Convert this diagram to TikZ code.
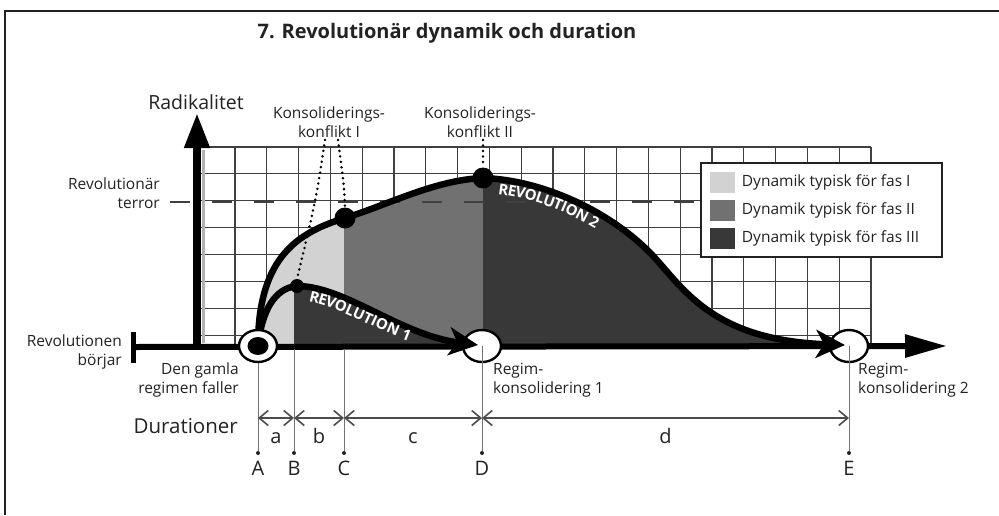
\documentclass[tikz,border=0pt]{standalone}
\usepackage{fontspec}
\setmainfont{Open Sans}
\usetikzlibrary{arrows.meta,positioning,calc,shapes.geometric,decorations.text}

\definecolor{fasI}{HTML}{D2D2D2}
\definecolor{fasII}{HTML}{717171}
\definecolor{fasIII}{HTML}{383838}
\definecolor{ink}{HTML}{222222}

\begin{document}
\begin{tikzpicture}[x=1pt,y=-1pt,>=Stealth,
  every node/.style={font=\fontsize{15.5}{19.5}\selectfont,text=ink,inner sep=0pt},
  gridline/.style={draw=black!75,line width=1.1pt},
  bigdot/.style={circle,fill=black,minimum size=21pt},
  smalldot/.style={circle,fill=black,minimum size=14pt},
  ring/.style={ellipse,draw=black,line width=2.4pt,fill=white,minimum width=38pt,minimum height=32pt},
  tick/.style={circle,fill=ink,minimum size=4pt},
  guide/.style={draw=black!55,line width=0.9pt},
  dots/.style={line width=2.8pt,line cap=round,dash pattern=on 0pt off 5.5pt},
  span/.style={{Straight Barb[length=9pt,width=15pt]}-{Straight Barb[length=9pt,width=15pt]},line width=1.6pt,draw=black!70},
  revcurve/.style={line width=6.5pt,-{Stealth[length=29pt,width=28pt,inset=8pt]}},
  swatch/.style={minimum width=25pt,minimum height=21pt}]
  \useasboundingbox (0,0) rectangle (999,515);
  % frame and title
  \draw[ink,line width=2.5pt] (5,515) -- (5,11) -- (999,11);
  \node[font=\bfseries\fontsize{20}{24}\selectfont] (title) at (447,33) {7. Revolutionär dynamik och duration};

  % grid
  \foreach \i in {0,...,20}
    \draw[gridline] ({235+31.8*\i},147) -- ({235+31.8*\i},346);
  \foreach \j in {0,...,7}
    \draw[gridline] (197,{147+26.9*\j}) -- (871,{147+26.9*\j});

  % the two revolutions
  \def\rtwo{(258,346) .. controls (258,255) and (300,232) .. (345,218)
    .. controls (390,204) and (435,180) .. (483,178)
    .. controls (545,180) and (615,214) .. (655,258)
    .. controls (685,291) and (715,340) .. (845,345)}
  \def\rone{(258,346) .. controls (262,310) and (275,288) .. (297,286)
    .. controls (345,286) and (400,335) .. (478,345)}
  \begin{scope}
    \clip (240,100) rectangle (344,350);
    \fill[fasI] \rtwo -- cycle;
  \end{scope}
  \begin{scope}
    \clip (344,100) rectangle (483,350);
    \fill[fasII] \rtwo -- cycle;
  \end{scope}
  \begin{scope}
    \clip (483,100) rectangle (870,350);
    \fill[fasIII] \rtwo -- cycle;
  \end{scope}
  \begin{scope}
    \clip (294,100) rectangle (483,350);
    \fill[fasIII] \rone -- cycle;
  \end{scope}

  % terror level
  \draw[black!75,line width=2pt,dash pattern=on 20pt off 22pt] (170,202) -- (700,202);

  % axes
  \node[fill=black,minimum width=5pt,minimum height=31pt] (start) at (133,347) {};
  \coordinate (orig) at (197,346);
  \coordinate (ytop) at (197,113);
  \coordinate (xend) at (947,346);
  \draw[line width=6pt,-{Triangle[length=42pt,width=22pt]}] (start.center) -- (xend);
  \draw[black!30,line width=3pt] (203,150) -- (203,343);
  \draw[line width=7.5pt,-{Triangle[length=35pt,width=24pt]}] (orig) -- (ytop);
  \node[font=\fontsize{19.5}{22}\selectfont] (ylabel) at (196,102) {Radikalitet};

  \node[ring] (D) at (482,346) {};
  \node[ring] (E) at (849,346) {};
  \draw[revcurve] \rone;
  \draw[revcurve] \rtwo;
  \node[ring] (A) at (258,346) {};
  \node[ellipse,fill=black,minimum width=21pt,minimum height=18pt] (Ain) at (A) {};

  \node[smalldot] (r1) at (297,286) {};
  \node[bigdot] (k1) at (345,218) {};
  \node[bigdot] (k2) at (483,178) {};

  \path[decorate,decoration={text along path,text color=white,raise=-14.5pt,
    text align={left indent=15pt},
    text={|\bfseries\fontsize{15}{15}\selectfont|REVOLUTION 1}}]
    (r1.center) .. controls (345,286) and (400,335) .. (478,345);
  \path[decorate,decoration={text along path,text color=white,raise=-15pt,
    text align={left indent=17pt},
    text={|\bfseries\fontsize{15}{15}\selectfont|REVOLUTION 2}}]
    (k2.center) .. controls (545,180) and (615,214) .. (655,258);

  % durations
  \foreach \n/\x in {A/258,B/294,C/344,D/482,E/849} {
    \node[tick] (t\n) at (\x,453) {};
    \node[anchor=base,font=\fontsize{20}{22}\selectfont] (l\n) at (\x,475) {\n};
    \coordinate (s\n) at (\x,418);
  }
  \draw[guide] (A.south) -- (tA);
  \draw[guide] (294,349) -- (tB);
  \draw[guide] (344,349) -- (tC);
  \draw[guide] (D.center) -- (tD);
  \draw[guide] (E.center) -- (tE);
  \foreach \p/\q/\t in {A/B/a,B/C/b,C/D/c,D/E/d}
    \draw[span] (s\p) -- node[anchor=base,yshift=-25pt,font=\fontsize{20}{22}\selectfont] (d\t) {\t} (s\q);
  \node[anchor=base east,font=\fontsize{20.5}{24}\selectfont] (durlabel) at (238,433) {Durationer};

  % labels
  \node[anchor=east,align=right] (terror) at (160,193) {Revolutionär\\terror};
  \node[anchor=east,align=right] (begin) at (122,352) {Revolutionen\\börjar};
  \node[anchor=east,align=right] (fall) at (239,380) {Den gamla\\regimen faller};
  \node[anchor=west,align=left] (cons1) at (493,380) {Regim-\\konsolidering 1};
  \node[anchor=west,align=left] (cons2) at (858,380) {Regim-\\konsolidering 2};
  \node[align=center] (conf1) at (329,122) {Konsoliderings-\\konflikt I};
  \node[align=center] (conf2) at (480,122) {Konsoliderings-\\konflikt II};
  \draw[dots] (325,140) .. controls (316,200) .. (r1.north);
  \draw[dots] (338,140) .. controls (344,185) .. (k1.north);
  \draw[dots] (483,140) -- (k2.north);

  % legend
  \node[draw=ink,line width=1.8pt,fill=white,minimum width=241pt,minimum height=94pt] (legend) at (821.5,210) {};
  \node[swatch,fill=fasI] (s1) at (722,182) {};
  \node[swatch,fill=fasII] (s2) at (722,210) {};
  \node[swatch,fill=fasIII] (s3) at (722,238) {};
  \node[right=7pt of s1] (t1) {Dynamik typisk för fas I};
  \node[right=7pt of s2] (t2) {Dynamik typisk för fas II};
  \node[right=7pt of s3] (t3) {Dynamik typisk för fas III};
\end{tikzpicture}
\end{document}
